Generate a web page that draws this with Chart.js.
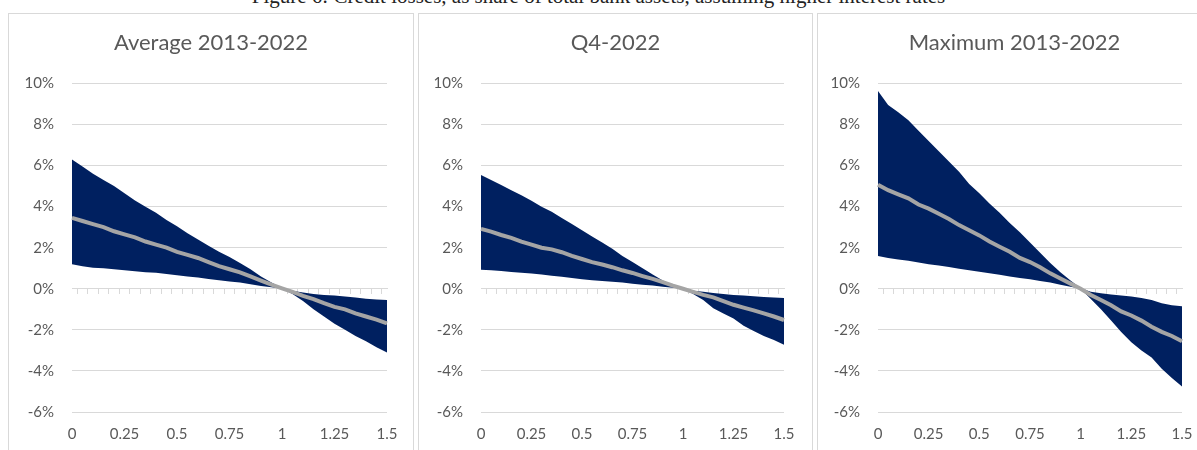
<!DOCTYPE html>
<html>
<head>
<meta charset="utf-8">
<script src="https://cdn.jsdelivr.net/npm/chart.js@4"></script>
<style>
  html, body { margin: 0; padding: 0; background: #fff; overflow: hidden; }
  body { width: 1197px; height: 450px; position: relative; }
  .caption {
    position: absolute; left: 0; width: 1197px; top: -16px;
    text-align: center; font-family: "Liberation Serif", serif; font-size: 21px;
    color: #222; white-space: nowrap;
  }
  .panel { position: absolute; top: 13px; height: 446px; border: 1px solid #d9d9d9; background: #fff; }
  .panel canvas { display: block; }
</style>
</head>
<body>
<div class="caption">Figure 6: Credit losses, as share of total bank assets, assuming higher interest rates</div>
<div class="panel" style="left:8px;width:404px"><canvas id="c1" width="404" height="446"></canvas></div>
<div class="panel" style="left:418px;width:393px"><canvas id="c2" width="393" height="446"></canvas></div>
<div class="panel" style="left:817px;width:393px"><canvas id="c3" width="393" height="446"></canvas></div>
<script>
// interest rate shock, 0 to 1.5 in steps of 0.05
const shocks = ['0','0.05','0.1','0.15','0.2','0.25','0.3','0.35','0.4','0.45','0.5','0.55','0.6','0.65','0.7','0.75',
  '0.8','0.85','0.9','0.95','1','1.05','1.1','1.15','1.2','1.25','1.3','1.35','1.4','1.45','1.5'];
const shownLabels = ['0','0.25','0.5','0.75','1','1.25','1.5'];
const yTicks = [-6, -4, -2, 0, 2, 4, 6, 8, 10];

const titles = ['Average 2013-2022', 'Q4-2022', 'Maximum 2013-2022'];

// credit losses in % of total assets: upper bound, lower bound, central estimate
const avgUpper = [6.3,5.95,5.6,5.3,5.0,4.65,4.3,4.0,3.7,3.35,3.05,2.7,2.4,2.1,1.8,1.55,1.25,0.95,0.6,0.3,0.02,
  -0.1,-0.18,-0.25,-0.3,-0.33,-0.38,-0.42,-0.48,-0.52,-0.55];
const avgLower = [1.2,1.1,1.02,1.0,0.95,0.9,0.85,0.8,0.78,0.72,0.66,0.6,0.55,0.48,0.42,0.36,0.3,0.22,0.14,0.07,0,
  -0.25,-0.6,-1.0,-1.35,-1.7,-2.0,-2.3,-2.55,-2.85,-3.1];
const avgMid = [3.45,3.3,3.15,3.0,2.8,2.65,2.5,2.3,2.15,2.0,1.8,1.65,1.5,1.3,1.1,0.95,0.8,0.6,0.4,0.2,0.02,
  -0.15,-0.35,-0.5,-0.7,-0.88,-1.0,-1.2,-1.35,-1.5,-1.68];

const q4Upper = [5.54,5.3,5.05,4.8,4.55,4.28,4.0,3.75,3.45,3.15,2.85,2.55,2.25,1.95,1.6,1.3,1.0,0.7,0.4,0.15,0.0,
  -0.1,-0.15,-0.2,-0.25,-0.3,-0.33,-0.37,-0.4,-0.42,-0.45];
const q4Lower = [0.93,0.9,0.86,0.82,0.78,0.74,0.7,0.64,0.58,0.52,0.46,0.42,0.38,0.34,0.3,0.24,0.2,0.16,0.1,0.05,0,
  -0.25,-0.55,-0.95,-1.2,-1.45,-1.8,-2.05,-2.3,-2.5,-2.72];
const q4Mid = [2.92,2.78,2.62,2.48,2.3,2.15,2.0,1.92,1.78,1.6,1.45,1.3,1.18,1.05,0.9,0.77,0.62,0.48,0.32,0.15,0.0,
  -0.15,-0.3,-0.42,-0.6,-0.78,-0.92,-1.05,-1.2,-1.35,-1.52];

const maxUpper = [9.63,8.95,8.6,8.2,7.7,7.2,6.7,6.2,5.7,5.1,4.65,4.15,3.7,3.2,2.75,2.25,1.75,1.25,0.8,0.4,0.02,
  -0.15,-0.22,-0.28,-0.33,-0.38,-0.45,-0.55,-0.7,-0.8,-0.85];
const maxLower = [1.6,1.5,1.42,1.36,1.28,1.2,1.13,1.06,0.98,0.9,0.83,0.76,0.68,0.6,0.52,0.46,0.38,0.3,0.2,0.1,0,
  -0.5,-1.0,-1.55,-2.1,-2.6,-3.0,-3.35,-3.9,-4.35,-4.76];
const maxMid = [5.07,4.8,4.6,4.4,4.1,3.9,3.65,3.4,3.1,2.85,2.6,2.3,2.05,1.8,1.5,1.3,1.05,0.75,0.5,0.25,0,
  -0.3,-0.55,-0.8,-1.1,-1.3,-1.55,-1.85,-2.1,-2.3,-2.56];

const textColor = '#595959';
const gridColor = '#d9d9d9';
const font = 'Lato';

function makeChart(id, title, upper, lower, mid, axisWidth, rightPad) {
  new Chart(document.getElementById(id), {
    type: 'line',
    data: {
      labels: shocks,
      datasets: [
        { data: mid, borderColor: '#a5a5a5', borderWidth: 4, pointRadius: 0, fill: false, order: 0 },
        { data: lower, borderWidth: 0, pointRadius: 0, fill: false, order: 1 },
        { data: upper, borderWidth: 0, pointRadius: 0, fill: '-1', backgroundColor: '#002060', order: 1 }
      ]
    },
    options: {
      responsive: false,
      animation: false,
      layout: { padding: { left: 0, right: 0, top: 0, bottom: 12 } },
      plugins: {
        legend: { display: false },
        tooltip: { enabled: false },
        title: {
          display: true, text: title, color: textColor,
          font: { family: font, size: 22, weight: 'normal' },
          padding: { top: 16, bottom: 27 }
        }
      },
      scales: {
        x: {
          grid: { display: false },
          border: { display: false },
          ticks: {
            color: textColor, font: { family: font, size: 15 }, padding: 5,
            autoSkip: false, maxRotation: 0,
            callback: function (v) {
              const l = this.getLabelForValue(v);
              return shownLabels.includes(l) ? l : '';
            }
          }
        },
        // tick marks hanging from the zero line
        x2: {
          type: 'category',
          position: { y: 0 },
          grid: { drawOnChartArea: false, drawTicks: true, tickLength: 5, color: gridColor, offset: true },
          border: { display: true, color: gridColor },
          ticks: { display: false, autoSkip: false }
        },
        y: {
          min: -6, max: 10,
          afterBuildTicks: s => { s.ticks = yTicks.map(v => ({ value: v })); },
          afterFit: s => { s.width = axisWidth; },
          grid: { color: gridColor, drawTicks: false },
          border: { display: false },
          ticks: { color: textColor, font: { family: font, size: 15 }, padding: 18, callback: v => v + '%' }
        },
        // empty right-hand margin so the title stays centred on the panel
        yRight: {
          position: 'right',
          display: true,
          grid: { display: false },
          border: { display: false },
          ticks: { display: false },
          afterFit: s => { s.width = rightPad; }
        }
      }
    }
  });
}

makeChart('c1', titles[0], avgUpper, avgLower, avgMid, 63, 26);
makeChart('c2', titles[1], q4Upper, q4Lower, q4Mid, 62, 28);
makeChart('c3', titles[2], maxUpper, maxLower, maxMid, 60, 29);
</script>
</body>
</html>
